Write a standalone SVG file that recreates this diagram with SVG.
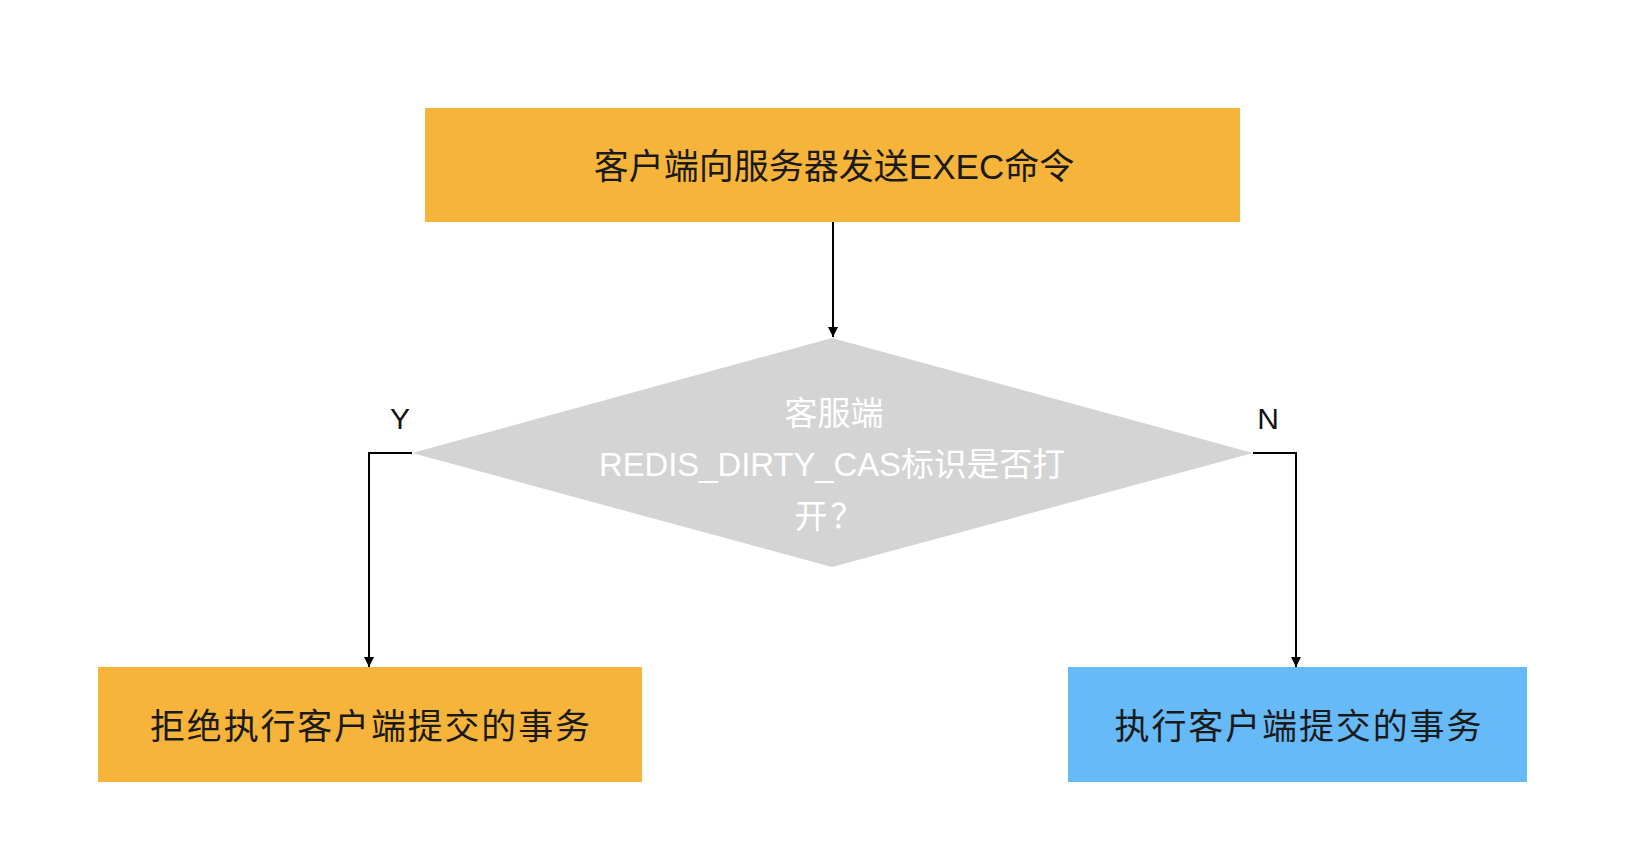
<svg xmlns="http://www.w3.org/2000/svg" width="1650" height="854" viewBox="0 0 1650 854">
<style>
.t{font-family:"Liberation Sans","Noto Sans CJK SC",sans-serif;text-anchor:middle;dominant-baseline:central}
.dark{fill:#1a1a1a;font-size:35px}
.light{fill:#ffffff;font-size:33px}
.lbl{fill:#111;font-size:30px}
.ln{fill:none;stroke:#000;stroke-width:2}
</style>
<defs>
<marker id="ah" viewBox="0 0 10 10" refX="10" refY="5" markerWidth="10" markerHeight="10" markerUnits="userSpaceOnUse" orient="auto">
<path d="M0,0 L10,5 L0,10 z" fill="#000"/>
</marker>
</defs>
<rect width="1650" height="854" fill="#fff"/>
<g id="connectors">
<path class="ln" d="M833,222 V337" marker-end="url(#ah)"/>
<path class="ln" d="M412,453 H369 V667" marker-end="url(#ah)"/>
<path class="ln" d="M1253,453 H1296 V667" marker-end="url(#ah)"/>
<text class="t lbl" x="400" y="418">Y</text>
<text class="t lbl" x="1268" y="418">N</text>
</g>
<g id="start">
<rect x="425" y="108" width="815" height="114" fill="#F7B43B"/>
<text class="t dark" x="834" y="166">客户端向服务器发送EXEC命令</text>
</g>
<g id="decision">
<polygon points="832,338 1253,453 832,567 412,453" fill="#D4D4D4"/>
<text class="t light" x="834" y="413">客服端</text>
<text class="t light" x="832" y="464" textLength="466" lengthAdjust="spacingAndGlyphs">REDIS_DIRTY_CAS标识是否打</text>
<text class="t light" x="829" y="516" textLength="69" lengthAdjust="spacing">开？</text>
</g>
<g id="reject">
<rect x="98" y="667" width="544" height="115" fill="#F7B43B"/>
<text class="t dark" x="370" y="726" textLength="440" lengthAdjust="spacing">拒绝执行客户端提交的事务</text>
</g>
<g id="execute">
<rect x="1068" y="667" width="459" height="115" fill="#67BAF8"/>
<text class="t dark" x="1298" y="726" textLength="367" lengthAdjust="spacing">执行客户端提交的事务</text>
</g>
</svg>
